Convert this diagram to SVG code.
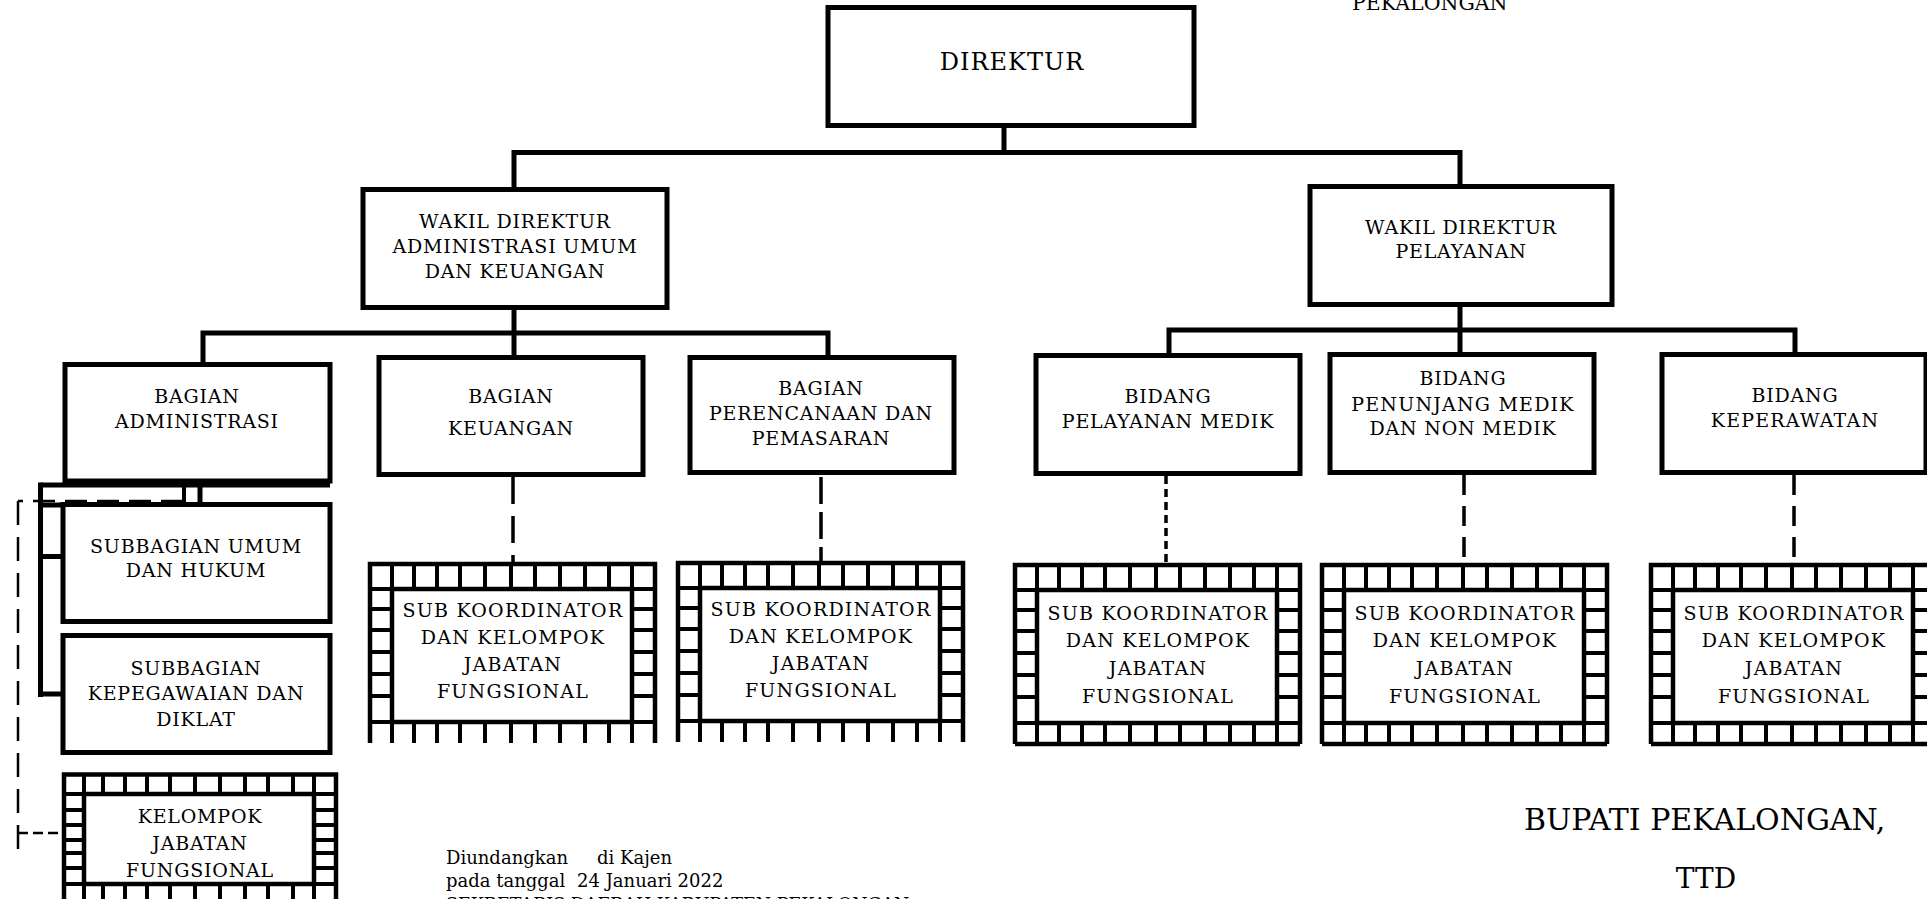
<svg xmlns="http://www.w3.org/2000/svg" xmlns:xlink="http://www.w3.org/1999/xlink" width="1927" height="899" viewBox="0 0 1927 899">
<style>
.box{fill:#fff;stroke:#000;stroke-width:5}
.ln{fill:none;stroke:#000;stroke-width:5}
.fr{fill:none;stroke:#000;stroke-width:4.5}
.tk{fill:none;stroke:#000;stroke-width:4}
.ds{fill:none;stroke:#000;stroke-width:3.5}
.dt{fill:none;stroke:#000;stroke-width:2.5}
text{font-family:"DejaVu Serif","Liberation Serif",serif;fill:#000}
.t{font-size:19px;text-anchor:middle;letter-spacing:0.8px}
.s{letter-spacing:1.2px}
.f{font-size:18px}
</style>
<defs>
<g id="frame">
<rect x="2" y="2" width="285" height="179" fill="#fff" stroke="none"/>
<path class="fr" d="M2,181 V2 H287 V181"/>
<rect class="fr" x="24" y="27" width="240" height="133"/>
<path class="tk" d="M24,2V27 M46,2V27 M69,2V27 M92,2V27 M117,2V27 M143,2V27 M167,2V27 M192,2V27 M217,2V27 M241,2V27 M264,2V27 M24,160V181 M46,160V181 M69,160V181 M92,160V181 M117,160V181 M143,160V181 M167,160V181 M192,160V181 M217,160V181 M241,160V181 M264,160V181 M2,27H24 M2,47H24 M2,68H24 M2,90H24 M2,112H24 M2,134H24 M2,160H24 M264,27H287 M264,47H287 M264,68H287 M264,90H287 M264,112H287 M264,134H287 M264,160H287"/>
</g>
</defs>
<rect x="0" y="0" width="1927" height="899" fill="#fff"/>

<g id="connectors">
<path class="ln" d="M1004,125.5 V152.5"/>
<path class="ln" d="M514,189.5 V152.5 H1460 V186.5"/>
<path class="ln" d="M514,307.5 V333"/>
<path class="ln" d="M203,364.5 V333 H828 V357.5"/>
<path class="ln" d="M514,333 V357.5"/>
<path class="ln" d="M1460,304.5 V330"/>
<path class="ln" d="M1169,355.5 V330 H1795 V354.5"/>
<path class="ln" d="M1460,330 V354.5"/>
<path class="ln" d="M40.5,485 H330"/>
<path class="ln" d="M40.5,482.5 V697"/>
<path class="ln" d="M40.5,505 H63 M40.5,556.5 H63 M40.5,694 H63"/>
<path class="tk" d="M184,485 V505"/>
<path class="ln" d="M200,481 V513"/>
<path class="ds" d="M513,477 V562" stroke-dasharray="27 12"/>
<path class="ds" d="M821,477 V561" stroke-dasharray="27 8"/>
<path class="ds" d="M1166,476 V563" stroke-dasharray="8 5"/>
<path class="ds" d="M1464,475 V563" stroke-dasharray="20 11"/>
<path class="ds" d="M1794,475 V563" stroke-dasharray="20 11"/>
<path class="dt" d="M183,501 H18" stroke-dasharray="22 10"/>
<path class="dt" d="M18,501 V857" stroke-dasharray="24 12"/>
<path class="dt" d="M18,833 H62" stroke-dasharray="10 5"/>
</g>

<g id="direktur">
<rect class="box" x="828" y="7.5" width="366" height="118"/>
<text x="1012" y="70" style="font-size:24px;text-anchor:middle;letter-spacing:1px">DIREKTUR</text>
</g>

<g id="wadir-admin">
<rect class="box" x="363" y="189.5" width="304" height="118"/>
<text class="t" x="515" y="228">WAKIL DIREKTUR</text>
<text class="t" x="515" y="253">ADMINISTRASI UMUM</text>
<text class="t" x="515" y="278">DAN KEUANGAN</text>
</g>

<g id="wadir-pelayanan">
<rect class="box" x="1310" y="186.5" width="302" height="118"/>
<text class="t" x="1461" y="234">WAKIL DIREKTUR</text>
<text class="t" x="1461" y="258">PELAYANAN</text>
</g>

<g id="bagian-administrasi">
<rect class="box" x="65" y="364.5" width="265" height="116.5"/>
<text class="t" x="197" y="403">BAGIAN</text>
<text class="t" x="197" y="428">ADMINISTRASI</text>
</g>

<g id="bagian-keuangan">
<rect class="box" x="379" y="357.5" width="264" height="117"/>
<text class="t" x="511" y="403">BAGIAN</text>
<text class="t" x="511" y="435">KEUANGAN</text>
</g>

<g id="bagian-perencanaan">
<rect class="box" x="690" y="357.5" width="264" height="115"/>
<text class="t" x="821" y="395">BAGIAN</text>
<text class="t" x="821" y="420">PERENCANAAN DAN</text>
<text class="t" x="821" y="445">PEMASARAN</text>
</g>

<g id="bidang-pelayanan-medik">
<rect class="box" x="1036" y="355.5" width="264" height="118"/>
<text class="t" x="1168" y="403">BIDANG</text>
<text class="t" x="1168" y="428">PELAYANAN MEDIK</text>
</g>

<g id="bidang-penunjang">
<rect class="box" x="1330" y="354.5" width="264" height="118"/>
<text class="t" x="1463" y="385">BIDANG</text>
<text class="t s" x="1463" y="411">PENUNJANG MEDIK</text>
<text class="t" x="1463" y="435">DAN NON MEDIK</text>
</g>

<g id="bidang-keperawatan">
<rect class="box" x="1662" y="354.5" width="264" height="118"/>
<text class="t" x="1795" y="402">BIDANG</text>
<text class="t s" x="1795" y="427">KEPERAWATAN</text>
</g>

<g id="subbagian-umum">
<rect class="box" x="63" y="504.5" width="267" height="117"/>
<text class="t" x="196" y="553">SUBBAGIAN UMUM</text>
<text class="t" x="196" y="577">DAN HUKUM</text>
</g>

<g id="subbagian-kepegawaian">
<rect class="box" x="63" y="635.5" width="267" height="117"/>
<text class="t" x="196" y="675">SUBBAGIAN</text>
<text class="t" x="196" y="700">KEPEGAWAIAN DAN</text>
<text class="t" x="196" y="726">DIKLAT</text>
</g>

<g id="kelompok-jabatan-fungsional">
<rect x="64" y="774.5" width="272" height="130" fill="#fff"/>
<path class="fr" d="M64,905 V774.5 H336 V905"/>
<rect class="fr" x="84" y="794" width="230" height="90"/>
<path class="tk" d="M84,774V794 M103,774V794 M125,774V794 M147,774V794 M170,774V794 M195,774V794 M220,774V794 M245,774V794 M268,774V794 M293,774V794 M314,774V794 M84,884V905 M103,884V905 M125,884V905 M147,884V905 M170,884V905 M195,884V905 M220,884V905 M245,884V905 M268,884V905 M293,884V905 M314,884V905 M64,794H84 M64,810H84 M64,825H84 M64,840H84 M64,853H84 M64,868H84 M64,884H84 M314,794H336 M314,810H336 M314,825H336 M314,840H336 M314,853H336 M314,868H336 M314,884H336"/>
<text class="t" x="200" y="823">KELOMPOK</text>
<text class="t" x="200" y="850">JABATAN</text>
<text class="t" x="200" y="877">FUNGSIONAL</text>
</g>

<g id="subkoor-keuangan" transform="translate(368,562)">
<use xlink:href="#frame" href="#frame"/>
<text class="t s" x="145" y="55">SUB KOORDINATOR</text>
<text class="t s" x="145" y="82">DAN KELOMPOK</text>
<text class="t s" x="145" y="109">JABATAN</text>
<text class="t s" x="145" y="136">FUNGSIONAL</text>
</g>

<g id="subkoor-perencanaan" transform="translate(676,561)">
<use xlink:href="#frame" href="#frame"/>
<text class="t s" x="145" y="55">SUB KOORDINATOR</text>
<text class="t s" x="145" y="82">DAN KELOMPOK</text>
<text class="t s" x="145" y="109">JABATAN</text>
<text class="t s" x="145" y="136">FUNGSIONAL</text>
</g>

<g id="subkoor-pelayanan-medik" transform="translate(1013,563)">
<use xlink:href="#frame" href="#frame"/>
<path class="fr" d="M2,181 H287"/>
<text class="t s" x="145" y="57">SUB KOORDINATOR</text>
<text class="t s" x="145" y="84">DAN KELOMPOK</text>
<text class="t s" x="145" y="112">JABATAN</text>
<text class="t s" x="145" y="140">FUNGSIONAL</text>
</g>

<g id="subkoor-penunjang" transform="translate(1320,563)">
<use xlink:href="#frame" href="#frame"/>
<path class="fr" d="M2,181 H287"/>
<text class="t s" x="145" y="57">SUB KOORDINATOR</text>
<text class="t s" x="145" y="84">DAN KELOMPOK</text>
<text class="t s" x="145" y="112">JABATAN</text>
<text class="t s" x="145" y="140">FUNGSIONAL</text>
</g>

<g id="subkoor-keperawatan" transform="translate(1649,563)">
<use xlink:href="#frame" href="#frame"/>
<path class="fr" d="M2,181 H287"/>
<text class="t s" x="145" y="57">SUB KOORDINATOR</text>
<text class="t s" x="145" y="84">DAN KELOMPOK</text>
<text class="t s" x="145" y="112">JABATAN</text>
<text class="t s" x="145" y="140">FUNGSIONAL</text>
</g>

<g id="footer">
<text style="font-size:20.5px" x="1352" y="10">PEKALONGAN</text>
<text class="f" x="446" y="864">Diundangkan</text>
<text class="f" x="597" y="864">di Kajen</text>
<text class="f" x="446" y="887">pada tanggal</text>
<text class="f" x="577" y="887">24 Januari 2022</text>
<text style="font-size:17.5px" x="446" y="909">SEKRETARIS DAERAH KABUPATEN PEKALONGAN</text>
<text style="font-size:30px" x="1524" y="830">BUPATI PEKALONGAN,</text>
<text style="font-size:28px;text-anchor:middle" x="1706" y="888">TTD</text>
</g>
</svg>
